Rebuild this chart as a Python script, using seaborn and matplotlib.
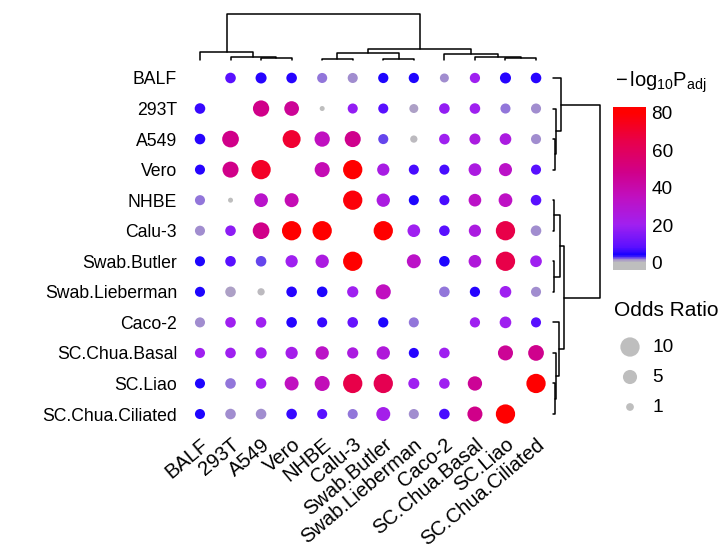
import numpy as np
import pandas as pd
import seaborn as sns
import matplotlib.pyplot as plt
from matplotlib.colors import LinearSegmentedColormap, Normalize
from matplotlib.cm import ScalarMappable

nan = np.nan
names = ["BALF", "293T", "A549", "Vero", "NHBE", "Calu-3", "Swab.Butler",
         "Swab.Lieberman", "Caco-2", "SC.Chua.Basal", "SC.Liao", "SC.Chua.Ciliated"]

# -log10 adjusted p-value, one list per row (diagonal empty)
logp = [
    [nan, 8, 5, 5, 2, 1.5, 4, 4, 1.5, 20, 5, 5],
    [6, nan, 48, 45, 0, 18, 8, 1, 18, 20, 2, 1.5],
    [5, 48, nan, 70, 35, 47, 2.5, 0.3, 20, 25, 25, 1.5],
    [5, 48, 72, nan, 38, 84, 24, 7, 7, 25, 33, 8],
    [2, 0, 32, 38, nan, 78, 25, 4, 7, 33, 34, 8],
    [1.5, 17, 48, 85, 80, nan, 80, 20, 8, 25, 65, 1.5],
    [4, 8, 2.5, 20, 25, 82, nan, 33, 4, 27, 65, 20],
    [4, 1, 0.3, 5, 4, 20, 35, nan, 2, 5, 20, 1.5],
    [1.5, 20, 20, 5, 6, 10, 4, 2, nan, 20, 20, 8],
    [20, 20, 21, 22, 33, 25, 27, 5, 20, nan, 45, 47],
    [4, 2, 20, 35, 37, 65, 63, 20, 20, 45, nan, 84],
    [4, 1.5, 1.5, 6, 8, 2, 22, 1.5, 7, 48, 84, nan],
]

# odds ratios
odds = [
    [nan, 2.5, 2.8, 2.5, 2.2, 2.2, 2.3, 2.3, 1.6, 2.3, 2.8, 2.5],
    [2.5, nan, 6.9, 5.5, 0, 2.2, 2.2, 1.6, 2.5, 2.5, 2.2, 2.2],
    [2.5, 7.3, nan, 8.6, 6.0, 6.7, 2.2, 0.8, 2.5, 2.8, 3.2, 2.2],
    [2.2, 6.7, 10, nan, 5.8, 12, 3.6, 2.2, 2.2, 3.9, 4.2, 2.2],
    [2.2, 0, 4.7, 4.9, nan, 14.1, 4.4, 2.2, 2.2, 3.9, 4.7, 2.5],
    [2.2, 2.5, 7.3, 12.4, 15, nan, 14.1, 3.9, 2.5, 3.6, 10.8, 2.5],
    [2.2, 2.5, 2.5, 3.6, 4.4, 14.1, nan, 4.9, 2.5, 3.9, 10.8, 3.2],
    [2.2, 2.5, 0.8, 2.5, 2.5, 2.9, 5.8, nan, 2.5, 2.3, 3.2, 2.2],
    [2.2, 2.5, 2.5, 2.5, 2.2, 2.5, 2.3, 2.2, nan, 2.3, 3.2, 2.2],
    [2.2, 2.5, 2.9, 3.6, 4.4, 2.9, 4.4, 2.2, 2.5, nan, 5.8, 6.4],
    [2.2, 2.5, 2.5, 4.9, 5.8, 10.5, 10.5, 2.8, 2.5, 5.2, nan, 14.1],
    [2.2, 2.5, 2.5, 2.5, 2.2, 2.2, 4.9, 2.2, 2.5, 5.8, 15, nan],
]

# hierarchical clustering (same for rows and columns): node a + node b at height h
merge_a = [2, 1, 0, 4, 6, 15, 10, 9, 8, 17, 14]
merge_b = [3, 12, 13, 5, 7, 16, 11, 18, 19, 20, 21]
merge_h = [2, 3, 8, 1.2, 1.2, 7, 2, 3, 6, 11, 46.5]

legend_or = [10, 5, 1]
cbar_ticks = [0, 20, 40, 60, 80]

sns.set_style("white")
plt.rcParams["font.family"] = ["Liberation Sans", "DejaVu Sans"]
plt.rcParams["mathtext.fontset"] = "custom"
plt.rcParams["mathtext.rm"] = "Liberation Sans"
plt.rcParams["mathtext.it"] = "Liberation Sans:italic"
for key in ["text.color", "axes.labelcolor", "xtick.color", "ytick.color"]:
    plt.rcParams[key] = "black"

# grey -> blue -> purple -> red
vmin, vmax = -4, 83
nodes = [(-4, "#bebebe"), (0, "#bebebe"), (1, "#a898c8"), (1.5, "#a08cd0"),
         (2, "#8868e0"), (3, "#4020f8"), (4, "#1800ff"), (8, "#5a10ff"),
         (20, "#a020f0"), (35, "#c010c0"), (48, "#d0008a"), (65, "#e8004a"),
         (80, "#ff0000"), (83, "#ff0000")]
cmap = LinearSegmentedColormap.from_list(
    "padj", [((v - vmin) / (vmax - vmin), c) for v, c in nodes])
norm = Normalize(vmin, vmax)

n = len(names)
rows, cols, lp, orr = [], [], [], []
for i in range(n):
    for j in range(n):
        if not np.isnan(logp[i][j]):
            rows.append(i)
            cols.append(j)
            lp.append(logp[i][j])
            orr.append(odds[i][j])
df = pd.DataFrame({"row": rows, "col": cols, "logp": lp, "OR": orr})

size_range = (13, 193)
size_norm = (0, 10)

W, H = 722, 552
fig = plt.figure(figsize=(W / 100, H / 100), dpi=100)

def box(x0, y0, x1, y1):
    return [x0 / W, 1 - y1 / H, (x1 - x0) / W, (y1 - y0) / H]

ax = fig.add_axes(box(184.7, 62.7, 551.3, 429.3))
sns.scatterplot(data=df, x="col", y="row", hue="logp", size="OR",
                palette=cmap, hue_norm=norm, sizes=size_range,
                size_norm=size_norm, linewidth=0, legend=False, ax=ax)
ax.set_xlim(-0.5, n - 0.5)
ax.set_ylim(n - 0.5, -0.5)
ax.set_xticks(range(n))
ax.set_yticks(range(n))
ax.set_xticklabels(names, rotation=40, ha="right", rotation_mode="anchor", fontsize=14.5)
ax.set_yticklabels(names, fontsize=12.7)
ax.tick_params(axis="both", length=0)
ax.tick_params(axis="x", pad=4)
ax.tick_params(axis="y", pad=5.5)
ax.set_xlabel("")
ax.set_ylabel("")
for s in ax.spines.values():
    s.set_visible(False)

def draw_dendro(dax, top):
    pos = list(range(n))
    hts = [0] * n
    for a, b, h in zip(merge_a, merge_b, merge_h):
        pa, pb, ha, hb = pos[a], pos[b], hts[a], hts[b]
        if top:
            dax.plot([pa, pa, pb, pb], [ha, h, h, hb], color="black", lw=1.1, clip_on=False)
        else:
            dax.plot([ha, h, h, hb], [pa, pa, pb, pb], color="black", lw=1.1, clip_on=False)
        pos.append((pa + pb) / 2)
        hts.append(h)

tax = fig.add_axes(box(184.7, 13.5, 551.3, 60))
draw_dendro(tax, True)
tax.set_xlim(-0.5, n - 0.5)
tax.set_ylim(0, 46.5)
tax.axis("off")

rax = fig.add_axes(box(553, 62.7, 600, 429.3))
draw_dendro(rax, False)
rax.set_ylim(n - 0.5, -0.5)
rax.set_xlim(0, 46.5)
rax.axis("off")

# colour bar
cax = fig.add_axes(box(613, 107, 646, 270))
cb = fig.colorbar(ScalarMappable(norm=norm, cmap=cmap), cax=cax, ticks=cbar_ticks)
cb.outline.set_visible(False)
cax.tick_params(direction="in", color="white", labelcolor="black", length=5,
                width=1.2, left=True, right=True, labelsize=13.7, pad=4)
fig.text(615 / W, 1 - 82 / H, r"$-\,\mathrm{log}_{10}\mathrm{P}_{\mathrm{adj}}$",
         ha="left", va="center", fontsize=14.5)

# odds ratio legend
fig.text(614 / W, 1 - 310 / H, "Odds Ratio", ha="left", va="center", fontsize=15)
lax = fig.add_axes(box(605, 332, 722, 422))
leg = pd.DataFrame({"x": [0] * len(legend_or), "y": range(len(legend_or)), "OR": legend_or})
sns.scatterplot(data=leg, x="x", y="y", size="OR", sizes=size_range, size_norm=size_norm,
                color="#bebebe", linewidth=0, legend=False, ax=lax)
lax.set_xlim(-25, 92)
lax.set_ylim(len(legend_or) - 0.5, -0.5)
for k, v in enumerate(legend_or):
    lax.text(22, k, str(v), ha="left", va="center", fontsize=13.7)
lax.axis("off")

fig.savefig("out.png", dpi=100)
